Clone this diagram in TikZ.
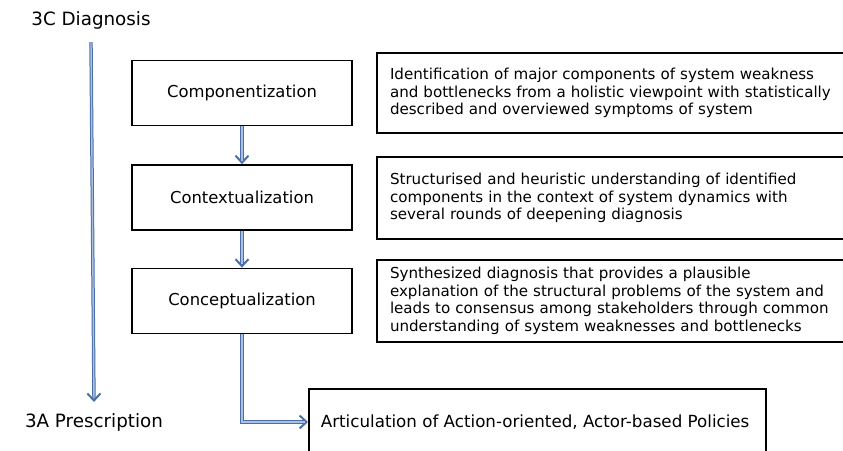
\documentclass[tikz,border=0pt]{standalone}
\usepackage{fontspec}
\setmainfont{DejaVu Sans}
\usetikzlibrary{arrows.meta}

\definecolor{raildark}{HTML}{4A6FA8}
\definecolor{raillight}{HTML}{A9C0DF}

\tikzset{
  stagebox/.style={draw=black, line width=1.8pt, minimum width=220pt, minimum height=65pt,
    inner sep=0pt, font=\fontsize{16.4}{19}\selectfont},
  notebox/.style={draw=black, line width=1.8pt, align=left, text width=447pt, inner xsep=13pt,
    inner ysep=0pt, minimum height=80pt, font=\fontsize{15.1}{17.6}\selectfont},
  phase/.style={inner sep=0pt, font=\fontsize{18.3}{21}\selectfont},
  railouter/.style={draw=raildark, line width=3.4pt,
    -{Straight Barb[length=7pt, width=13pt, line width=2pt]}},
  railinner/.style={draw=raillight, line width=1.4pt, shorten >=3.5pt},
}

\begin{document}
\begin{tikzpicture}[x=1pt, y=-1pt]
  \useasboundingbox (0,0) rectangle (843,450);

  % phase labels
  \node[phase] (diag)  at (91,20)  {3C Diagnosis};
  \node[phase] (presc) at (94,422) {3A Prescription};

  % diagnosis stages
  \node[stagebox] (comp) at (242,93)  {Componentization};
  \node[stagebox] (cont) at (242,197.5) {Contextualization};
  \node[stagebox] (conc) at (242,301) {Conceptualization};

  % policy box (runs past the lower edge)
  \node[draw=black, line width=1.8pt, minimum width=457pt, minimum height=66pt,
        inner xsep=12pt, anchor=west, font=\fontsize{16.7}{19}\selectfont] (art) at (308,422)
        {\makebox[433pt][l]{Articulation of Action-oriented, Actor-based Policies}};

  % descriptions (run past the right edge)
  \node[notebox, minimum height=80pt] (descA) at (613.5,93)
    {Identification of major components of system weakness\\
     and bottlenecks from a holistic viewpoint with statistically\\
     described and overviewed symptoms of system};
  \node[notebox, minimum height=82pt] (descB) at (613.5,198)
    {Structurised and heuristic understanding of identified\\
     components in the context of system dynamics with\\
     several rounds of deepening diagnosis};
  \node[notebox, minimum height=82pt] (descC) at (613.5,301)
    {Synthesized diagnosis that provides a plausible\\
     explanation of the structural problems of the system and\\
     leads to consensus among stakeholders through common\\
     understanding of system weaknesses and bottlenecks};

  % connectors
  \coordinate (d0) at ([yshift=-13pt]diag.south);
  \coordinate (p0) at ([yshift=11pt]presc.north);
  \draw[railouter] (d0) -- (p0);
  \draw[railinner] (d0) -- (p0);

  \draw[railouter] (comp.south) -- (cont.north);
  \draw[railinner] (comp.south) -- (cont.north);
  \draw[railouter] (cont.south) -- (conc.north);
  \draw[railinner] (cont.south) -- (conc.north);
  \draw[railouter] (conc.south) |- (art.west);
  \draw[railinner] (conc.south) |- (art.west);
\end{tikzpicture}
\end{document}
